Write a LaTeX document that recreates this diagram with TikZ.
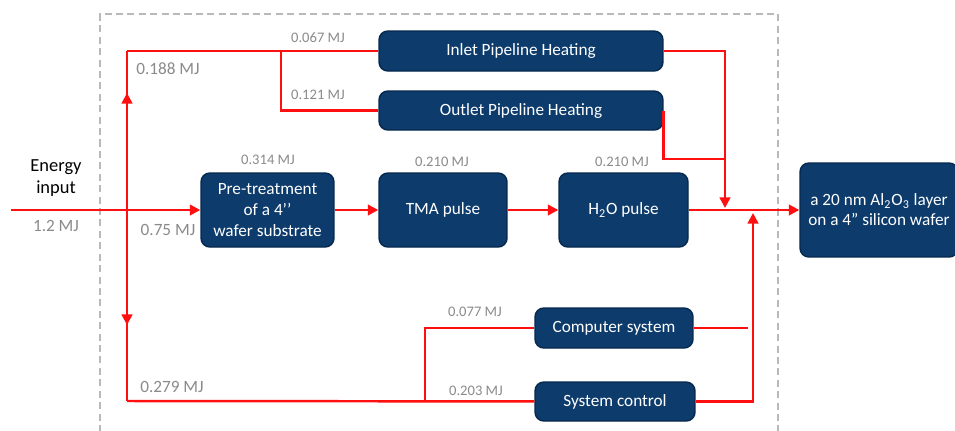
\documentclass[tikz,border=0pt]{standalone}
\usepackage{fontspec}
\setmainfont{Carlito}
\usetikzlibrary{arrows.meta}
\definecolor{navy}{HTML}{0C3B6C}
\definecolor{navyedge}{HTML}{06284D}
\definecolor{flowred}{HTML}{FF1010}
\definecolor{labgray}{HTML}{8A8A8A}
\tikzset{
  blockbox/.style={fill=navy, draw=navyedge, line width=0.8pt, rounded corners=5pt,
    text=white, align=center, inner sep=1pt, font=\fontsize{9.8}{12}\selectfont},
  flow/.style={draw=flowred, line width=1.4pt},
  flowarrow/.style={flow, -{Triangle[length=6pt,width=6pt]}},
  mj/.style={text=labgray, font=\fontsize{8.3}{10}\selectfont, inner sep=0pt},
  bigmj/.style={text=labgray, font=\fontsize{9.8}{11}\selectfont, inner sep=0pt}
}
\begin{document}
\begin{tikzpicture}[x=0.02cm, y=-0.02cm]
    \useasboundingbox (0,0) rectangle (955,430);
    % system boundary
    \draw[gray!55, line width=1.1pt, dash pattern=on 4pt off 2.5pt] (100,432) |- (778,14) -- (778,432);

    % process blocks
    \node[blockbox, minimum width=5.68cm, minimum height=0.8cm] (inlet) at (521,51) {Inlet Pipeline Heating};
    \node[blockbox, minimum width=5.68cm, minimum height=0.78cm] (outlet) at (521,110.5) {Outlet Pipeline Heating};
    \node[blockbox, minimum width=2.66cm, minimum height=1.48cm] (pre) at (267.5,210) {Pre-treatment\\of a 4’’\\wafer substrate};
    \node[blockbox, minimum width=2.56cm, minimum height=1.48cm] (tma) at (443,210) {TMA pulse};
    \node[blockbox, minimum width=2.58cm, minimum height=1.48cm] (h2o) at (623.5,210) {H\textsubscript{2}O pulse};
    \node[blockbox, minimum width=3.16cm, minimum height=1.88cm, font=\fontsize{9.8}{11.3}\selectfont] (layer) at (879,210) {a 20 nm Al\textsubscript{2}O\textsubscript{3} layer\\on a 4” silicon wafer};
    \node[blockbox, minimum width=3.16cm, minimum height=0.8cm] (comp) at (614,328) {Computer system};
    \node[blockbox, minimum width=3.2cm, minimum height=0.78cm] (ctrl) at (615,401.5) {System control};

    % junction points
    \coordinate (in) at (11,210);
    \coordinate (split) at (127,210);
    \coordinate (tl) at (127,51);
    \coordinate (bl) at (127,401);
    \coordinate (br) at (281,51);
    \coordinate (bb) at (425,401);
    \coordinate (join) at (725,208);
    \coordinate (cend) at (748,328);
    \coordinate (up) at (753,213);

    % energy flows
    \draw[flowarrow] (in) -- (pre);
    \draw[flow] (tl) -- (bl);
    \draw[flowarrow] (split) -- (127,93);
    \draw[flowarrow] (split) -- (127,325);
    \draw[flow] (tl) -- (inlet);
    \draw[flow] (br) |- (outlet);
    \draw[flowarrow] (inlet) -| (join);
    \draw[flow] (outlet.east) |- (725,159);
    \draw[flowarrow] (pre) -- (tma);
    \draw[flowarrow] (tma) -- (h2o);
    \draw[flowarrow] (h2o) -- (layer);
    \draw[flow] (bl) -- (ctrl);
    \draw[flow] (bb) |- (comp);
    \draw[flow] (comp) -- (cend);
    \draw[flowarrow] (ctrl) -| (up);

    % labels
    \node[align=center, font=\fontsize{10.5}{12.5}\selectfont] (energy) at (56,178) {Energy\\input};
    \node[bigmj] (l12) at (56,226) {1.2 MJ};
    \node[bigmj] (l075) at (168,230) {0.75 MJ};
    \node[bigmj] (l188) at (168,69) {0.188 MJ};
    \node[bigmj] (l279) at (172,387) {0.279 MJ};
    \node[mj] (l067) at (318,38) {0.067 MJ};
    \node[mj] (l121) at (318,95) {0.121 MJ};
    \node[mj] (l314) at (268,160) {0.314 MJ};
    \node[mj] (l210a) at (442,162) {0.210 MJ};
    \node[mj] (l210b) at (622,162) {0.210 MJ};
    \node[mj] (l077) at (475,312) {0.077 MJ};
    \node[mj] (l203) at (476,391) {0.203 MJ};
\end{tikzpicture}
\end{document}
